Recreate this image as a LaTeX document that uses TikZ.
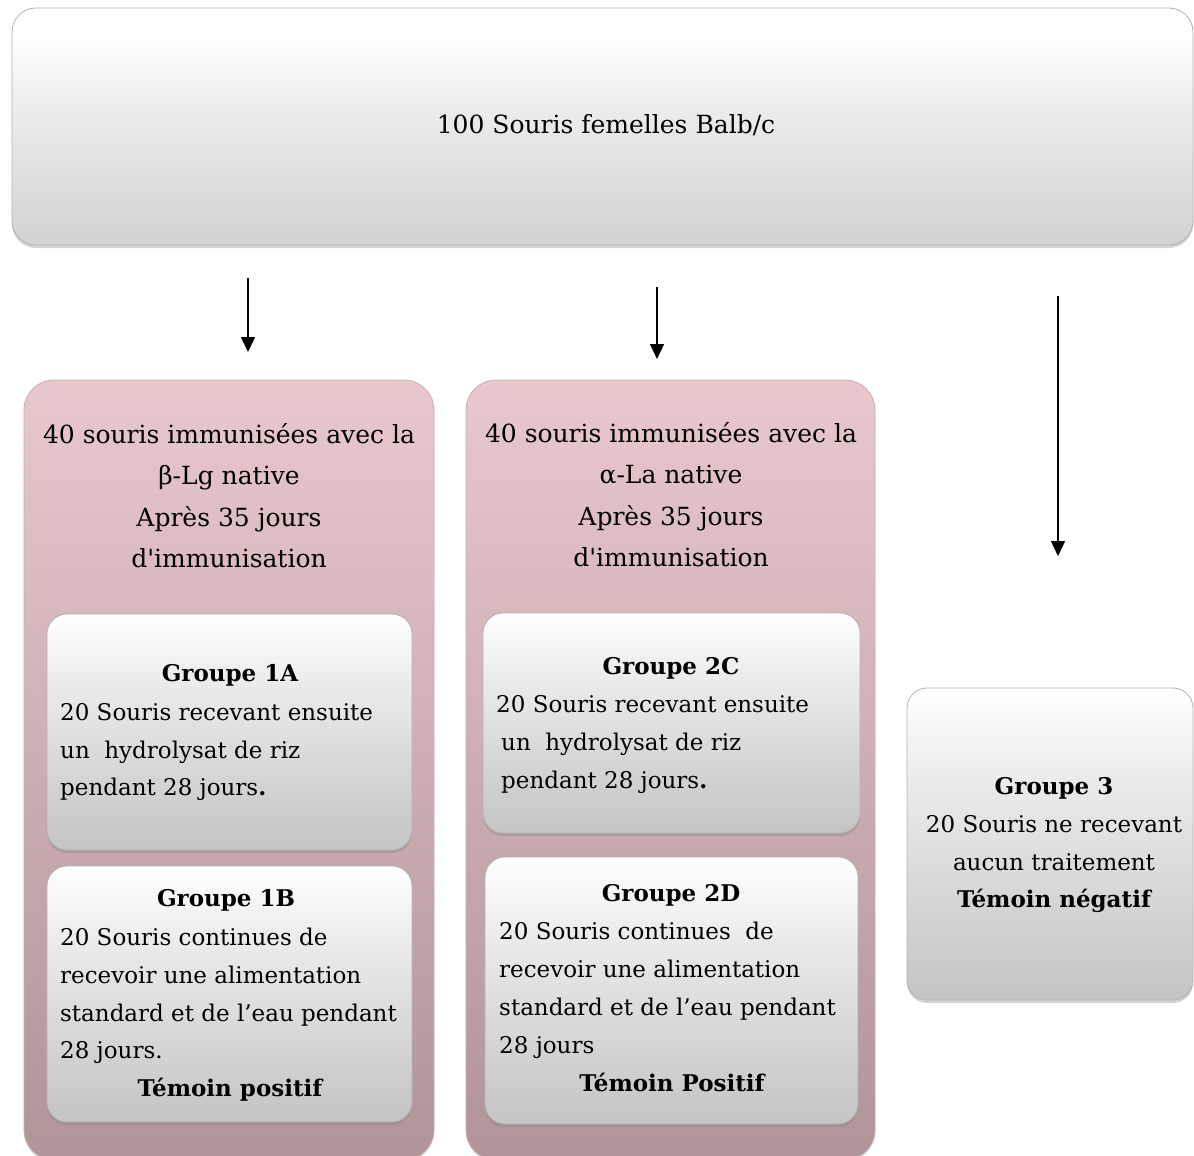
\documentclass[tikz,border=0pt]{standalone}
\usepackage{fontspec}
\setmainfont{DejaVu Serif}
\usetikzlibrary{arrows.meta,shadows}
\definecolor{pinktop}{RGB}{232,200,204}
\definecolor{pinkbot}{RGB}{176,148,152}
\definecolor{pinkedge}{RGB}{205,172,177}
\definecolor{greybot}{RGB}{196,196,196}
\definecolor{greybotT}{RGB}{210,210,210}
\pgfdeclareverticalshading{glossG}{100bp}{color(0bp)=(greybot); color(25bp)=(greybot); color(60bp)=(white!92!black); color(75bp)=(white); color(100bp)=(white)}
\pgfdeclareverticalshading{glossT}{100bp}{color(0bp)=(greybotT); color(25bp)=(greybotT); color(55bp)=(white!93!black); color(68bp)=(white); color(100bp)=(white)}
\begin{document}
\begin{tikzpicture}[x=1pt,y=-1pt,
  glossbox/.style={rectangle, rounded corners=20pt, draw=black!30, line width=0.8pt,
    shading=glossG, inner sep=0pt,
    drop shadow={shadow xshift=0pt, shadow yshift=-3pt, opacity=0.35}},
  pinkbox/.style={rectangle, rounded corners=30pt, draw=pinkedge, line width=0.8pt,
    top color=pinktop, bottom color=pinkbot, inner sep=0pt,
    drop shadow={shadow xshift=0pt, shadow yshift=-2pt, opacity=0.25}},
  head/.style={inner sep=0pt, font=\fontsize{25}{30}\selectfont},
  txt/.style={inner sep=0pt, font=\fontsize{23}{28}\selectfont},
  btxt/.style={inner sep=0pt, font=\fontsize{23}{28}\selectfont\bfseries},
  arr/.style={-{Triangle[length=15pt,width=14pt]}, line width=1.5pt}]
\useasboundingbox (0,0) rectangle (1194,1156);

% top box
\node[glossbox, shading=glossT, rounded corners=24pt, minimum width=1181pt, minimum height=237pt] (top) at (602.5,126.5) {};
\node[head, anchor=mid] (toptxt) at (606,131) {100 Souris femelles Balb/c};

% pink containers
\node[pinkbox, minimum width=410pt, minimum height=780pt] (pinkL) at (229,770) {};
\node[pinkbox, minimum width=409pt, minimum height=780pt] (pinkM) at (670.5,770) {};

% arrows
\coordinate (a1s) at (248,278); \coordinate (a1e) at (248,352);
\coordinate (a2s) at (657,287); \coordinate (a2e) at (657,359);
\coordinate (a3s) at (1058,296); \coordinate (a3e) at (1058,556);
\draw[arr] (a1s) -- (a1e);
\draw[arr] (a2s) -- (a2e);
\draw[arr] (a3s) -- (a3e);

% headings
\node[head, anchor=mid] (hl1) at (229,441) {40 souris immunisées avec la};
\node[head, anchor=mid] (hl2) at (229,482) {β-Lg native};
\node[head, anchor=mid] (hl3) at (229,524) {Après 35 jours};
\node[head, anchor=mid] (hl4) at (229,565) {d\textquotesingle immunisation};
\node[head, anchor=mid] (hm1) at (671,440) {40 souris immunisées avec la};
\node[head, anchor=mid] (hm2) at (671,481) {α-La native};
\node[head, anchor=mid] (hm3) at (671,523) {Après 35 jours};
\node[head, anchor=mid] (hm4) at (671,564) {d\textquotesingle immunisation};

% inner boxes
\node[glossbox, minimum width=365pt, minimum height=236pt] (g1a) at (229.5,732) {};
\node[glossbox, minimum width=365pt, minimum height=256pt] (g1b) at (229.5,994) {};
\node[glossbox, minimum width=377pt, minimum height=220pt] (g2c) at (671.5,723) {};
\node[glossbox, minimum width=373pt, minimum height=267pt] (g2d) at (671.5,990.5) {};
\node[glossbox, minimum width=286pt, minimum height=312pt] (g3) at (1050,844) {};

% group 1A
\node[btxt, anchor=mid] (t1a0) at (230,679) {Groupe 1A};
\node[txt, anchor=mid west] (t1a1) at (60,718) {20 Souris recevant ensuite};
\node[txt, anchor=mid west] (t1a2) at (60,756) {un\ \ hydrolysat de riz};
\node[txt, anchor=mid west] (t1a3) at (60,793) {pendant 28 jours\textbf{.}};

% group 1B
\node[btxt, anchor=mid] (t1b0) at (226,904) {Groupe 1B};
\node[txt, anchor=mid west] (t1b1) at (60,943) {20 Souris continues de};
\node[txt, anchor=mid west] (t1b2) at (60,981) {recevoir une alimentation};
\node[txt, anchor=mid west] (t1b3) at (60,1019) {standard et de l’eau pendant};
\node[txt, anchor=mid west] (t1b4) at (60,1056) {28 jours.};
\node[btxt, anchor=mid] (t1b5) at (230,1094) {Témoin positif};

% group 2C
\node[btxt, anchor=mid] (t2c0) at (671,672) {Groupe 2C};
\node[txt, anchor=mid west] (t2c1) at (496,710) {20 Souris recevant ensuite};
\node[txt, anchor=mid west] (t2c2) at (501,748) {un\ \ hydrolysat de riz};
\node[txt, anchor=mid west] (t2c3) at (501,786) {pendant 28 jours\textbf{.}};

% group 2D
\node[btxt, anchor=mid] (t2d0) at (671,899) {Groupe 2D};
\node[txt, anchor=mid west] (t2d1) at (499,937) {20 Souris continues\ \ de};
\node[txt, anchor=mid west] (t2d2) at (499,975) {recevoir une alimentation};
\node[txt, anchor=mid west] (t2d3) at (499,1013) {standard et de l’eau pendant};
\node[txt, anchor=mid west] (t2d4) at (499,1051) {28 jours};
\node[btxt, anchor=mid] (t2d5) at (672,1089) {Témoin Positif};

% group 3
\node[btxt, anchor=mid] (t30) at (1054,792) {Groupe 3};
\node[txt, anchor=mid] (t31) at (1054,830) {20 Souris ne recevant};
\node[txt, anchor=mid] (t32) at (1054,868) {aucun traitement};
\node[btxt, anchor=mid] (t33) at (1054,905) {Témoin négatif};
\end{tikzpicture}
\end{document}
